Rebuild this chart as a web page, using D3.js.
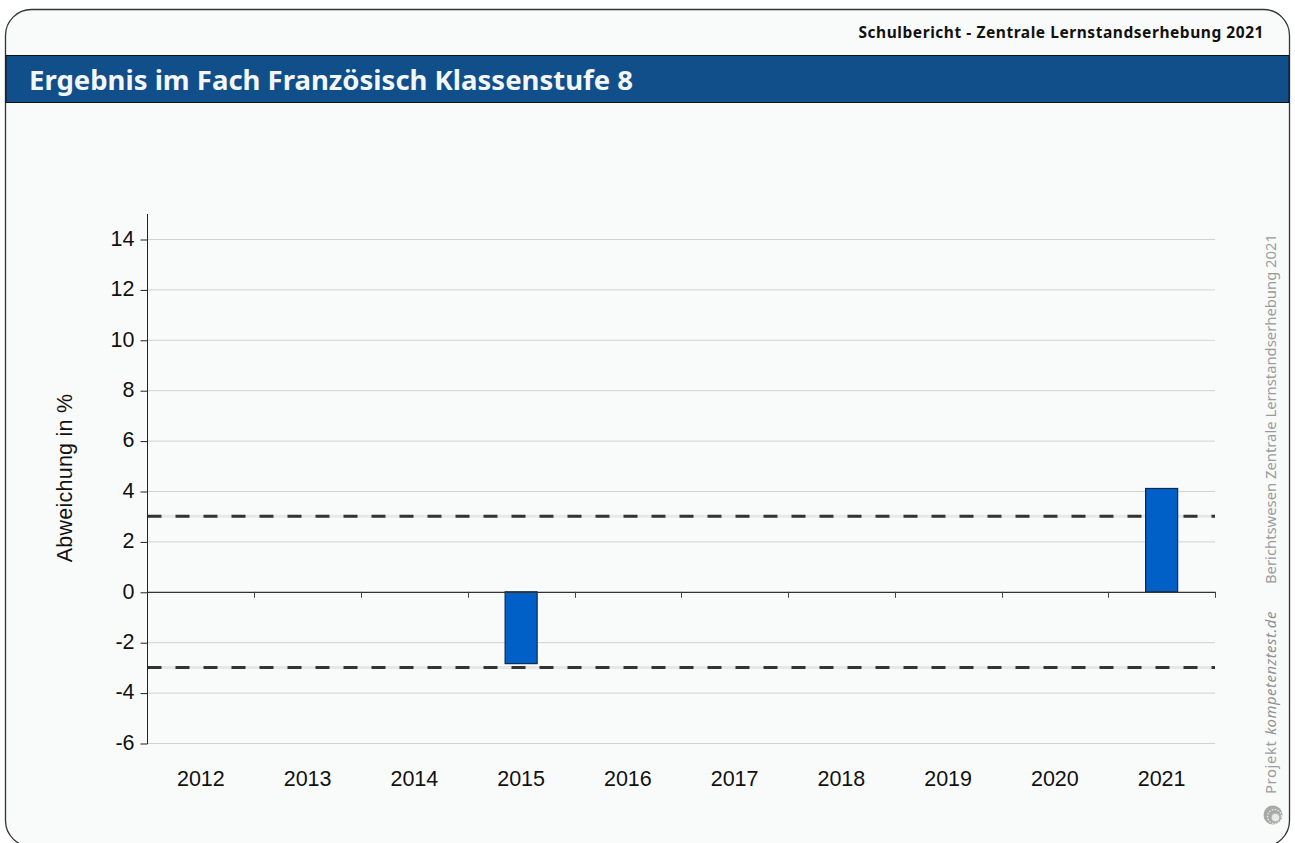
<!DOCTYPE html>
<html lang="de">
<head>
<meta charset="utf-8">
<title>Ergebnis im Fach Französisch</title>
<script src="https://cdn.jsdelivr.net/npm/d3@7"></script>
<style>
html, body { margin: 0; padding: 0; background: #fff; overflow: hidden; }
svg { display: block; }
.head { font-family: "Noto Sans", sans-serif; }
.tick-text { font-family: "Liberation Sans", Arial, sans-serif; font-size: 21.5px; fill: #111; }
</style>
</head>
<body>
<script>
var years = ["2012", "2013", "2014", "2015", "2016", "2017", "2018", "2019", "2020", "2021"];
var deviations = [null, null, null, -2.85, null, null, null, null, null, 4.1];
var yTicks = [-6, -4, -2, 0, 2, 4, 6, 8, 10, 12, 14];
var refLines = [3, -3];

var w = 1295, h = 843;
var left = 147.5, right = 1215;

var svg = d3.select("body").append("svg").attr("width", w).attr("height", h);

// panel with rounded corners, runs off the bottom of the page
svg.append("rect")
    .attr("x", 5.5).attr("y", 9.5)
    .attr("width", 1284).attr("height", 837)
    .attr("rx", 26).attr("ry", 26)
    .attr("fill", "#f9fbfa")
    .attr("stroke", "#333").attr("stroke-width", 1.3);

svg.append("rect")
    .attr("x", 6).attr("y", 55.5)
    .attr("width", 1283).attr("height", 47)
    .attr("fill", "#114f8a")
    .attr("stroke", "#111").attr("stroke-width", 1);

svg.append("text").attr("class", "head")
    .attr("x", 1264).attr("y", 38)
    .attr("text-anchor", "end")
    .attr("font-size", 15.5).attr("font-weight", 700).attr("fill", "#111")
    .attr("letter-spacing", 0.55)
    .text("Schulbericht - Zentrale Lernstandserhebung 2021");

svg.append("text").attr("class", "head")
    .attr("x", 29).attr("y", 90)
    .attr("font-size", 27.5).attr("font-weight", 700).attr("fill", "#f4f7f9")
    .text("Ergebnis im Fach Französisch Klassenstufe 8");

// scales
var y = d3.scaleLinear().domain([-6, 14]).range([743, 239]);
var x = d3.scaleBand().domain(years).range([left, right]);
var barW = x.bandwidth() * 0.3;

// grid
svg.append("g").selectAll("line")
    .data(yTicks.filter(function(d) { return d !== 0; }))
    .enter().append("line")
    .attr("x1", left).attr("x2", right)
    .attr("y1", function(d) { return y(d) + 0.5; })
    .attr("y2", function(d) { return y(d) + 0.5; })
    .attr("stroke", "#cfd2d1").attr("stroke-width", 1);

// dashed reference lines, light band under dark dashes
refLines.forEach(function(v) {
    svg.append("line")
        .attr("x1", left).attr("x2", right)
        .attr("y1", y(v)).attr("y2", y(v))
        .attr("stroke", "#e6e8e7").attr("stroke-width", 3);
    svg.append("line")
        .attr("x1", left).attr("x2", right)
        .attr("y1", y(v)).attr("y2", y(v))
        .attr("stroke", "#333").attr("stroke-width", 3)
        .attr("stroke-dasharray", "14 14");
});

// bars
svg.append("g").selectAll("rect")
    .data(years.map(function(d, i) { return { year: d, value: deviations[i] }; })
        .filter(function(d) { return d.value !== null; }))
    .enter().append("rect")
    .attr("x", function(d) { return x(d.year) + (x.bandwidth() - barW) / 2; })
    .attr("y", function(d) { return y(Math.max(d.value, 0)); })
    .attr("width", barW)
    .attr("height", function(d) { return Math.abs(y(d.value) - y(0)); })
    .attr("fill", "#0060c8")
    .attr("stroke", "#0a2a50").attr("stroke-width", 1.2);

// y axis
var yAxis = d3.axisLeft(y).tickValues(yTicks).tickSize(7).tickPadding(6).tickFormat(d3.format("d"));
var gy = svg.append("g").attr("transform", "translate(" + left + ",0.5)").call(yAxis);
gy.select(".domain").remove();
gy.selectAll(".tick line").attr("stroke", "#222");
gy.selectAll("text").attr("class", "tick-text").attr("font-family", null).attr("font-size", null)
    .attr("y", -1)
    .text(function(d) { return String(d); });
svg.append("line")
    .attr("x1", left).attr("x2", left)
    .attr("y1", 214).attr("y2", y(-6) + 1)
    .attr("stroke", "#222").attr("stroke-width", 1);

// zero line with ticks between the years
var tickEdges = years.slice(1).map(function(d) { return x(d); }).concat([right]);
svg.append("line")
    .attr("x1", left).attr("x2", right)
    .attr("y1", y(0) + 0.5).attr("y2", y(0) + 0.5)
    .attr("stroke", "#333").attr("stroke-width", 1.2);
svg.append("g").selectAll("line")
    .data(tickEdges).enter().append("line")
    .attr("x1", function(d) { return Math.round(d) + 0.5; })
    .attr("x2", function(d) { return Math.round(d) + 0.5; })
    .attr("y1", y(0)).attr("y2", y(0) + 6)
    .attr("stroke", "#444").attr("stroke-width", 1);

// year labels
svg.append("g").selectAll("text")
    .data(years).enter().append("text")
    .attr("class", "tick-text")
    .attr("x", function(d) { return x(d) + x.bandwidth() / 2; })
    .attr("y", 786)
    .attr("text-anchor", "middle")
    .text(function(d) { return d; });

svg.append("text").attr("class", "tick-text")
    .attr("transform", "translate(72,478) rotate(-90)")
    .attr("text-anchor", "middle")
    .attr("letter-spacing", 0.25)
    .text("Abweichung in %");

// side credits
svg.append("text").attr("class", "head")
    .attr("transform", "translate(1276,794) rotate(-90)")
    .attr("font-size", 14.8).attr("fill", "#9a9c9c")
    .attr("letter-spacing", 0.6)
    .text("Projekt");
svg.append("text").attr("class", "head")
    .attr("transform", "translate(1276,735) rotate(-90)")
    .attr("font-size", 14.8).attr("font-style", "italic").attr("fill", "#8f9191")
    .attr("letter-spacing", 0.55)
    .text("kompetenztest.de");

svg.append("text").attr("class", "head")
    .attr("transform", "translate(1276,584) rotate(-90)")
    .attr("font-size", 14.8).attr("fill", "#9a9c9c")
    .text("Berichtswesen Zentrale Lernstandserhebung 2021");

// little round logo
var logo = svg.append("g").attr("transform", "translate(1273,815)");
logo.append("circle").attr("r", 9.5).attr("fill", "#a8aaa8");
logo.append("circle").attr("cx", 1.5).attr("cy", 1.5).attr("r", 7)
    .attr("fill", "none").attr("stroke", "#eceeec").attr("stroke-width", 1.2).attr("stroke-dasharray", "1.5 1.5");
logo.append("circle").attr("cx", 2.5).attr("cy", 2.5).attr("r", 4)
    .attr("fill", "#e8eae8").attr("stroke", "#aaa").attr("stroke-width", 1).attr("stroke-dasharray", "1 1.2");
</script>
</body>
</html>
